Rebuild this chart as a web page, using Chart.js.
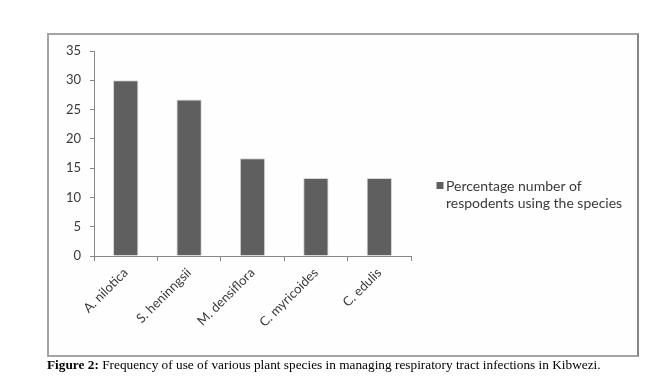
<!DOCTYPE html>
<html>
<head>
<meta charset="utf-8">
<script src="https://cdn.jsdelivr.net/npm/chart.js@4"></script>
<style>
  body { margin:0; background:#fff; }
  #wrap { position:relative; width:661px; height:382px; overflow:hidden; }
  #frame { position:absolute; left:47px; top:33px; width:588px; height:320px;
           border-top:2px solid #a4a4a4; border-left:2px solid #a4a4a4;
           border-right:2px solid #858585; border-bottom:2px solid #a4a4a4; background:#fefefe; }
  #graf { position:absolute; left:0; top:0; }
  #caption { position:absolute; left:47px; top:357px; font:13.3px "Liberation Serif", "Times New Roman", serif;
             color:#000; white-space:nowrap; line-height:15px; }
</style>
</head>
<body>
<div id="wrap">
  <div id="frame"></div>
  <canvas id="graf" width="661" height="382"></canvas>
  <div id="caption"><b>Figure 2:</b> Frequency of use of various plant species in managing respiratory tract infections in Kibwezi.</div>
</div>
<script>
document.addEventListener("DOMContentLoaded", () => {

  const especies = ["A. nilotica", "S. heninngsii", "M. densiflora", "C. myricoides", "C. edulis"];
  const percentuais = [30, 26.7, 16.7, 13.3, 13.3];
  const legenda = ["Percentage number of", "respodents using the species"];
  const ticksY = [0, 5, 10, 15, 20, 25, 30, 35];

  const corBarra = "#5f5f5f";
  const corEixo = "#878787";
  const corTexto = "#3a3a3a";

  // legenda desenhada a mao, duas linhas
  const legendaPlugin = {
    id: "legendaMao",
    afterDraw(chart) {
      const ctx = chart.ctx;
      const ds = chart.data.datasets[0];
      ctx.save();
      ctx.fillStyle = ds.backgroundColor;
      ctx.fillRect(436.5, 182, 7, 7);
      ctx.fillStyle = corTexto;
      ctx.font = "14px Lato";
      ctx.textBaseline = "middle";
      ctx.textAlign = "left";
      ds.label.forEach((t, i) => ctx.fillText(t, 446, 186 + i * 17.5));
      ctx.restore();
    }
  };

  new Chart(document.getElementById("graf"), {
    type: "bar",
    data: {
      labels: especies,
      datasets: [{
        label: legenda,
        data: percentuais,
        backgroundColor: corBarra,
        borderColor: "#d6d6d6",
        borderWidth: 1,
        barPercentage: 0.4,
        categoryPercentage: 1
      }]
    },
    options: {
      responsive: false,
      animation: false,
      layout: { padding: { left: 44, right: 250, top: 51, bottom: 51 } },
      plugins: { legend: { display: false }, tooltip: { enabled: false } },
      scales: {
        x: {
          afterFit: s => { s.height = 75; },
          border: { color: corEixo, width: 1 },
          grid: { display: true, drawOnChartArea: false, offset: true, color: corEixo, tickLength: 5 },
          ticks: { color: corTexto, font: { family: "Lato", size: 13 }, minRotation: 45, maxRotation: 45, padding: 4 }
        },
        y: {
          min: ticksY[0],
          max: ticksY[ticksY.length - 1],
          afterFit: s => { s.width = 50; },
          afterBuildTicks: s => { s.ticks = ticksY.map(v => ({ value: v })); },
          border: { color: corEixo, width: 1 },
          grid: { display: true, drawOnChartArea: false, color: corEixo, tickLength: 4 },
          ticks: { color: corTexto, font: { family: "Lato", size: 13 }, padding: 9 }
        }
      }
    },
    plugins: [legendaPlugin]
  });

});
</script>
</body>
</html>
